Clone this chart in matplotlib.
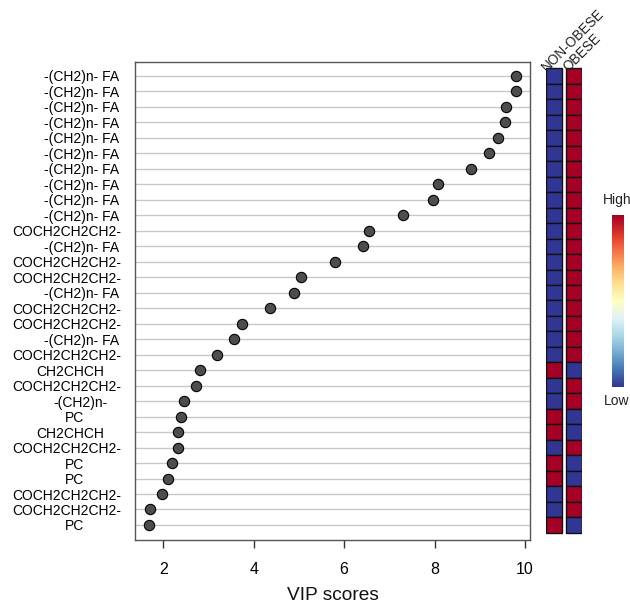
import matplotlib
matplotlib.use("Agg")
import matplotlib.pyplot as plt
import numpy as np
from matplotlib.transforms import ScaledTranslation

plt.rcParams['font.family'] = ['Liberation Sans', 'DejaVu Sans']

# ---------------- data ----------------
features = [
    "-(CH2)n- FA", "-(CH2)n- FA", "-(CH2)n- FA", "-(CH2)n- FA", "-(CH2)n- FA",
    "-(CH2)n- FA", "-(CH2)n- FA", "-(CH2)n- FA", "-(CH2)n- FA", "-(CH2)n- FA",
    "COCH2CH2CH2-", "-(CH2)n- FA", "COCH2CH2CH2-", "COCH2CH2CH2-", "-(CH2)n- FA",
    "COCH2CH2CH2-", "COCH2CH2CH2-", "-(CH2)n- FA", "COCH2CH2CH2-", "CH2CHCH",
    "COCH2CH2CH2-", "-(CH2)n-", "PC", "CH2CHCH", "COCH2CH2CH2-",
    "PC", "PC", "COCH2CH2CH2-", "COCH2CH2CH2-", "PC",
]
vip_scores = [
    9.80, 9.79, 9.59, 9.55, 9.40, 9.20, 8.81, 8.07, 7.97, 7.29,
    6.55, 6.41, 5.79, 5.04, 4.90, 4.37, 3.74, 3.56, 3.18, 2.80,
    2.72, 2.46, 2.38, 2.33, 2.32, 2.20, 2.11, 1.98, 1.71, 1.69,
]
groups = ["NON-OBESE", "OBESE"]
# relative concentration level per group (1 = high, 0 = low)
nonobese_level = [0] * 19 + [1, 0, 0, 1, 1, 0, 1, 1, 0, 0, 1]
obese_level = [1 - v for v in nonobese_level]
x_ticks = [2, 4, 6, 8, 10]

# ---------------- style ----------------
W, H = 630, 603
fig = plt.figure(figsize=(W / 100, H / 100), dpi=100)

def fx(px):
    return px / W

def fy(py):
    return 1 - py / H

box_l, box_r, box_t, box_b = 135, 530, 62, 540
ax = fig.add_axes([fx(box_l), fy(box_b), fx(box_r - box_l), (box_b - box_t) / H])

rows = np.arange(1, len(features) + 1)
ylim = (30.97, 0.096)

ax.yaxis.grid(True, color='#c8c8c8', linewidth=1.0, zorder=0)
ax.scatter(vip_scores, rows, s=55, facecolor='#4d4d4d', edgecolor='black',
           linewidth=0.8, zorder=3)
ax.set_xlim(1.373, 10.11)
ax.set_ylim(*ylim)
ax.set_xticks(x_ticks)
ax.set_xticklabels([str(t) for t in x_ticks], fontsize=11.5)
ax.tick_params(axis='x', length=6, width=1, color='#333333', pad=10)
ax.set_yticks(rows)
ax.set_yticklabels(features, fontsize=10)
ax.tick_params(axis='y', length=0, pad=49)
offsets = {"-(CH2)n- FA": 14.5, "-(CH2)n-": 14, "PC": 7.5, "CH2CHCH": 3, "COCH2CH2CH2-": 0}
for lab in ax.get_yticklabels():
    lab.set_ha('center')
    dx = offsets.get(lab.get_text(), 0)
    lab.set_transform(lab.get_transform() + ScaledTranslation(dx / 100, 0, fig.dpi_scale_trans))
for sp in ax.spines.values():
    sp.set_color('#555555')
    sp.set_linewidth(1.0)
fig.text(fx((box_l + box_r) / 2), fy(599.5), "VIP scores", ha='center', va='baseline',
         fontsize=13.8, color='#111111')

# ---------------- heatmap ----------------
blue = '#313695'
red = '#a50026'
hax = fig.add_axes([fx(546), fy(box_b), fx(36), (box_b - box_t) / H])
hax.set_xlim(0, 1.8)
hax.set_ylim(*ylim)
for j, lev in enumerate([nonobese_level, obese_level]):
    cols = [red if v == 1 else blue for v in lev]
    hax.barh(rows, width=0.8, left=j * 1.0, height=1.0, color=cols,
             edgecolor='#111111', linewidth=1.0)
    hax.text(j * 1.0 + 0.15 + 0.05 * j, 0.88, groups[j], rotation=45, rotation_mode='anchor',
             ha='left', va='bottom', fontsize=9.8, color='#222222', clip_on=False)
hax.axis('off')

# ---------------- colour key ----------------
cax = fig.add_axes([fx(612), fy(387), fx(12), 172 / H])
grad = np.linspace(0, 1, 256).reshape(-1, 1)
cax.imshow(grad, aspect='auto', cmap='RdYlBu_r', origin='lower')
cax.axis('off')
fig.text(fx(617), fy(200), "High", ha='center', va='center', fontsize=10, color='#222222')
fig.text(fx(617), fy(401), "Low", ha='center', va='center', fontsize=10, color='#222222')

fig.savefig("out.png", dpi=100)
